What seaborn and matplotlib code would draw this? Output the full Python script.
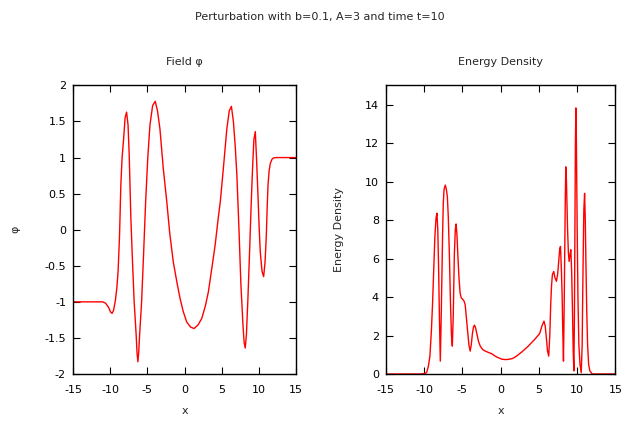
import seaborn as sns
import matplotlib.pyplot as plt
from matplotlib.ticker import FuncFormatter

# field phi
phi_x = [-15, -11, -10.6, -10.2, -9.95, -9.75, -9.55, -9.3, -9.1, -8.94, -8.75, -8.57,
         -8.4, -8.2, -8.0, -7.8, -7.6, -7.45, -7.22, -7.0, -6.78, -6.51, -6.4, -6.28,
         -6.17, -6.05, -5.78, -5.5, -5.24, -4.95, -4.66, -4.3, -3.95, -3.65, -3.32,
         -2.87, -2.41, -2.0, -1.52, -1.0, -0.62, -0.2, 0.28, 0.8, 1.27, 1.8, 2.3, 2.8,
         3.19, 3.7, 4.1, 4.5, 4.8, 5.2, 5.67, 6.0, 6.28, 6.55, 6.8, 7.02, 7.3, 7.56,
         7.85, 8.0, 8.14, 8.3, 8.5, 8.72, 8.92, 9.12, 9.3, 9.49, 9.65, 9.85, 10.0,
         10.16, 10.4, 10.61, 10.8, 10.97, 11.1, 11.2, 11.35, 11.51, 11.75, 11.95, 12.3, 15]
phi_y = [-1.0, -1.0, -1.02, -1.08, -1.14, -1.16, -1.12, -0.98, -0.8, -0.58, -0.1, 0.62,
         1.0, 1.25, 1.55, 1.63, 1.45, 1.05, 0.15, -0.45, -1.0, -1.46, -1.7, -1.83,
         -1.7, -1.46, -1.0, -0.3, 0.385, 1.0, 1.45, 1.72, 1.78, 1.65, 1.4,
         0.85, 0.4, -0.05, -0.45, -0.75, -0.95, -1.13, -1.28, -1.35, -1.37, -1.32, -1.23, -1.05,
         -0.86, -0.5, -0.21, 0.15, 0.4, 0.85, 1.4, 1.65, 1.71, 1.5, 1.15, 0.75, 0.0, -0.77,
         -1.35, -1.57, -1.64, -1.45, -0.95, -0.31, 0.3, 0.85, 1.25, 1.36, 1.0, 0.48, 0.05,
         -0.31, -0.58, -0.65, -0.45, -0.08, 0.35, 0.62, 0.82, 0.92, 0.98, 0.995, 1.0, 1.0]

# energy density
ed_x = [-15, -10.5, -10.0, -9.68, -9.45, -9.25, -9.05, -8.9, -8.75, -8.6, -8.45, -8.33,
        -8.22, -8.11, -8.0, -7.89, -7.78, -7.67, -7.58, -7.5, -7.4, -7.24, -7.1, -6.97,
        -6.85, -6.71, -6.55, -6.43, -6.32, -6.2, -6.05, -5.93, -5.83, -5.72, -5.61, -5.45,
        -5.3, -5.15, -5.0, -4.8, -4.64, -4.5, -4.34, -4.15, -3.99, -3.85, -3.68, -3.55,
        -3.42, -3.28, -3.1, -2.9, -2.67, -2.35, -2.01, -1.6, -1.15, -0.8, -0.5, 0.15, 0.6,
        1.02, 1.5, 1.88, 2.3, 2.75, 3.2, 3.61, 4.1, 4.45, 5.09, 5.4, 5.66, 5.82, 5.97,
        6.12, 6.28, 6.42, 6.54, 6.65, 6.76, 6.93, 7.1, 7.29, 7.45, 7.6, 7.72, 7.82, 7.93,
        8.03, 8.12, 8.21, 8.3, 8.38, 8.45, 8.51, 8.6, 8.74, 8.85, 8.95, 9.06, 9.17, 9.28,
        9.39, 9.48, 9.57, 9.64, 9.7, 9.77, 9.83, 9.9, 10.0, 10.1, 10.22, 10.37, 10.53,
        10.65, 10.75, 10.87, 10.97, 11.06, 11.14, 11.25, 11.36, 11.5, 11.66, 11.97, 15]
ed_y = [0, 0, 0.02, 0.07, 0.4, 0.93, 2.3, 3.7, 5.5, 7.15, 8.1, 8.36,
        7.5, 5.42, 2.8, 0.67, 2.8, 5.42, 7.5, 8.88, 9.6, 9.82, 9.6, 9.22,
        8.2, 6.29, 3.5, 2.0, 1.45, 3.0, 6.29, 7.5, 7.8, 7.3, 6.29, 5.0,
        4.2, 3.95, 3.9, 3.8, 3.6, 3.0, 2.3, 1.5, 1.19, 1.5, 2.14, 2.45,
        2.54, 2.4, 2.06, 1.7, 1.45, 1.27, 1.19, 1.12, 1.05, 0.95, 0.88, 0.77, 0.75,
        0.76, 0.8, 0.88, 1.0, 1.14, 1.3, 1.45, 1.65, 1.8, 2.1, 2.5, 2.75, 2.5, 1.89,
        1.2, 0.93, 2.0, 3.61, 4.6, 5.16, 5.33, 5.0, 4.82, 5.2, 5.9, 6.5, 6.63, 5.5,
        4.13, 2.2, 0.67, 3.5, 6.72, 9.2, 10.77, 10.0, 7.58, 6.3, 5.85, 6.2, 6.46, 5.3,
        3.26, 1.2, 0.16, 3.0, 7.58, 12.0, 13.83, 12.0, 7.58, 4.0, 1.54, 0.5, 0.07,
        1.5, 4.99, 8.5, 9.39, 8.0, 5.85, 3.3, 1.54, 0.5, 0.16, 0.0, 0]

sns.set_style('ticks')
plt.rcParams['font.family'] = ['DejaVu Sans']
plt.rcParams['font.size'] = 8
plt.rcParams['axes.unicode_minus'] = False
plt.rcParams['axes.edgecolor'] = 'black'

fig = plt.figure(figsize=(6.4, 4.25), dpi=100)
ax1 = fig.add_axes([0.114, 0.12, 0.349, 0.679])
ax2 = fig.add_axes([0.603, 0.12, 0.3586, 0.679])

sns.lineplot(x=phi_x, y=phi_y, ax=ax1, color='#ff0000', lw=1, estimator=None)
sns.lineplot(x=ed_x, y=ed_y, ax=ax2, color='#ff0000', lw=1, estimator=None)

fmt = FuncFormatter(lambda v, p: '%g' % v)
for ax in (ax1, ax2):
    ax.set_xlim(-15, 15)
    ax.set_xticks(range(-15, 16, 5))
    ax.xaxis.set_major_formatter(fmt)
    ax.yaxis.set_major_formatter(fmt)
    ax.tick_params(direction='in', length=5, width=0.8, top=True, right=True,
                   colors='black', labelsize=8)
    ax.tick_params(axis='x', pad=8)
    ax.tick_params(axis='y', pad=5)
    for s in ax.spines.values():
        s.set_linewidth(1)
        s.set_color('black')
    ax.set_xlabel('x', labelpad=8)

ax1.set_ylim(-2, 2)
ax1.set_yticks([-2, -1.5, -1, -0.5, 0, 0.5, 1, 1.5, 2])
ax1.set_ylabel('φ', labelpad=17)
ax1.set_title('Field φ', pad=15, fontsize=8)

ax2.set_ylim(0, 15)
ax2.set_yticks(range(0, 15, 2))
ax2.set_ylabel('Energy Density', labelpad=15)
ax2.set_title('Energy Density', pad=15, fontsize=8)

fig.suptitle('Perturbation with b=0.1, A=3 and time t=10', y=0.96, va='center', fontsize=8)

fig.savefig('out.png', dpi=100)
